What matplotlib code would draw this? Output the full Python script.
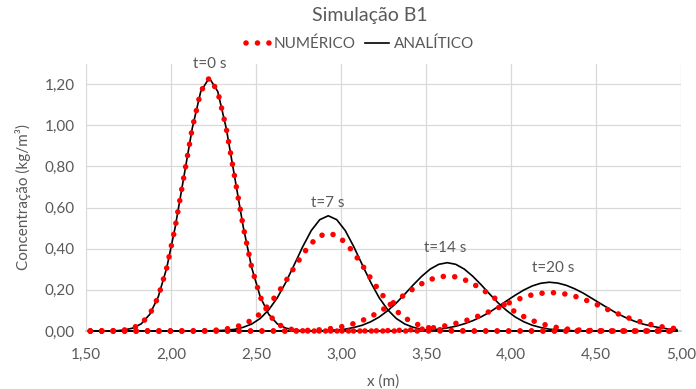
import numpy as np
import matplotlib
matplotlib.use("Agg")
import matplotlib.pyplot as plt
from matplotlib.lines import Line2D

plt.rcParams['font.family'] = ['Lato', 'DejaVu Sans']

# x positions of the data (m)
x = [round(1.525 + 0.05 * k, 3) for k in range(70)]

num_t0 = [0, 0, 0, 0.001, 0.005, 0.014, 0.035, 0.081, 0.166, 0.307,
          0.506, 0.746, 0.985, 1.164, 1.230, 1.164, 0.985, 0.746, 0.506, 0.307,
          0.166, 0.081, 0.035, 0.014, 0.005, 0.001] + [0] * 44
ana_t0 = list(num_t0)

ana_t7 = [0] * 14 + [0.001, 0.002, 0.004, 0.008, 0.018, 0.034, 0.061, 0.103, 0.161, 0.236,
                     0.322, 0.410, 0.488, 0.541, 0.560, 0.541, 0.488, 0.410, 0.322, 0.236,
                     0.161, 0.103, 0.061, 0.034, 0.018, 0.008, 0.004, 0.002, 0.001] + [0] * 27
num_t7 = [0] * 13 + [0.001, 0.002, 0.005, 0.010, 0.018, 0.032, 0.053, 0.084, 0.126, 0.180,
                     0.242, 0.308, 0.373, 0.426, 0.462, 0.475, 0.464, 0.430, 0.380, 0.320,
                     0.256, 0.195, 0.142, 0.098, 0.064, 0.040, 0.024, 0.014, 0.007, 0.004,
                     0.002, 0.001] + [0] * 25

ana_t14 = [0] * 26 + [0.001, 0.001, 0.003, 0.005, 0.009, 0.017, 0.028, 0.045, 0.068, 0.099,
                      0.136, 0.179, 0.224, 0.266, 0.301, 0.324, 0.332, 0.324, 0.301, 0.266,
                      0.224, 0.179, 0.136, 0.099, 0.068, 0.045, 0.028, 0.017, 0.009, 0.005,
                      0.003, 0.001, 0.001] + [0] * 11
num_t14 = [0] * 24 + [0.001, 0.002, 0.004, 0.006, 0.010, 0.016, 0.025, 0.036, 0.051, 0.070,
                      0.093, 0.119, 0.147, 0.177, 0.205, 0.230, 0.250, 0.263, 0.267, 0.263,
                      0.250, 0.230, 0.205, 0.177, 0.147, 0.119, 0.093, 0.070, 0.051, 0.036,
                      0.025, 0.016, 0.010, 0.006, 0.004, 0.002, 0.001] + [0] * 9

ana_t20 = [0] * 37 + [0.001, 0.002, 0.003, 0.005, 0.009, 0.015, 0.023, 0.035, 0.050, 0.069,
                      0.092, 0.119, 0.147, 0.174, 0.199, 0.219, 0.232, 0.237, 0.233, 0.222,
                      0.205, 0.184, 0.159, 0.134, 0.109, 0.085, 0.065, 0.048, 0.034, 0.024,
                      0.016, 0.010, 0.007]
num_t20 = [0] * 33 + [0.001, 0.001, 0.002, 0.003, 0.004, 0.006, 0.009, 0.014, 0.019, 0.027,
                      0.037, 0.048, 0.062, 0.078, 0.095, 0.113, 0.132, 0.149, 0.164, 0.176,
                      0.183, 0.187, 0.185, 0.179, 0.169, 0.155, 0.139, 0.121, 0.102, 0.085,
                      0.068, 0.054, 0.041, 0.031, 0.022, 0.016, 0.011]

numeric = [num_t0, num_t7, num_t14, num_t20]
analytic = [ana_t0, ana_t7, ana_t14, ana_t20]
time_labels = ["t=0 s", "t=7 s", "t=14 s", "t=20 s"]
label_pos = [(2.225, 1.30), (2.923, 0.622), (3.613, 0.403), (4.25, 0.306)]

title = "Simulação B1"
xlabel = "x (m)"
ylabel = "Concentração (kg/m³)"
xticks = [1.5, 2.0, 2.5, 3.0, 3.5, 4.0, 4.5, 5.0]
yticks = [0.0, 0.2, 0.4, 0.6, 0.8, 1.0, 1.2]

grey = "#595959"
red = "#ff0000"

fig = plt.figure(figsize=(6.96, 3.89), dpi=100)
ax = fig.add_axes([86/696, 1-331/389, (681-86)/696, (331-63.5)/389])

dot_lw = 4.0
dot_style = (0, (0.01, 2.05))
for ya in analytic:
    ax.plot(x, ya, color="black", lw=1.2, zorder=3, clip_on=False)
for yn in numeric:
    ax.plot(x, yn, color=red, lw=dot_lw, linestyle=dot_style,
            dash_capstyle="round", zorder=4, clip_on=False)

for lab, (lx, ly) in zip(time_labels, label_pos):
    ax.text(lx, ly, lab, ha="center", va="center", fontsize=11, color=grey)

ax.set_xlim(1.5, 5.0)
ax.set_ylim(0, 1.3)
ax.set_xticks(xticks)
ax.set_yticks(yticks)
ax.set_xticklabels([f"{v:.2f}".replace(".", ",") for v in xticks])
ax.set_yticklabels([f"{v:.2f}".replace(".", ",") for v in yticks])
ax.tick_params(length=0, labelsize=11, colors=grey)
ax.tick_params(axis="x", pad=12)
ax.tick_params(axis="y", pad=8)
ax.grid(True, color="#d9d9d9", lw=0.9)
ax.set_axisbelow(True)
for s in ["top", "right", "left"]:
    ax.spines[s].set_visible(False)
ax.spines["bottom"].set_color("#bfbfbf")
ax.spines["bottom"].set_linewidth(1.2)
ax.spines["bottom"].set_zorder(2)

ax.set_xlabel(xlabel, fontsize=11, color=grey, labelpad=9)
ax.set_ylabel(ylabel, fontsize=11, color=grey, labelpad=10)

fig.text(0.532, 1-15/389, title, ha="center", va="center", fontsize=14, color=grey)

handles = [Line2D([0], [0], color=red, lw=dot_lw, linestyle=dot_style, dash_capstyle="round"),
           Line2D([0], [0], color="black", lw=1.2)]
fig.legend(handles, ["NUMÉRICO", "ANALÍTICO"], loc="center", bbox_to_anchor=(0.517, 1-44/389),
           ncol=2, frameon=False, fontsize=11, handlelength=1.55, handletextpad=0.3,
           columnspacing=0.6, labelcolor=grey)

fig.savefig("out.png", dpi=100)
